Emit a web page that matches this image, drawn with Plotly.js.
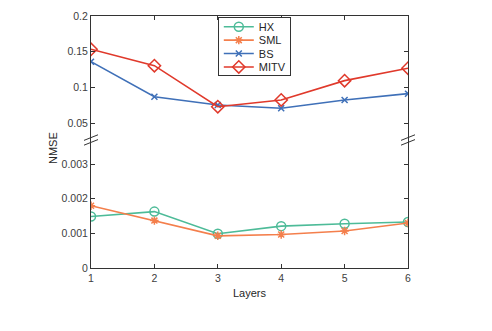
<!DOCTYPE html>
<html>
<head>
<meta charset="utf-8">
<script src="https://cdn.plot.ly/plotly-3.0.1.min.js"></script>
<style>
  body { margin: 0; background: #fff; }
  #chart { width: 492px; height: 331px; }
</style>
</head>
<body>
<div id="chart"></div>
<script>
// values
var layers = [1, 2, 3, 4, 5, 6];
var hx   = [0.00149, 0.00163, 0.00099, 0.00121, 0.00128, 0.00133];
var sml  = [0.00180, 0.00137, 0.00093, 0.00097, 0.00107, 0.00130];
var bs   = [0.1362, 0.0873, 0.0757, 0.0711, 0.0827, 0.0915];
var mitv = [0.1535, 0.1306, 0.0733, 0.0827, 0.1097, 0.1271];

var upTicks = [0.05, 0.1, 0.15, 0.2];
var upLabels = ['0.05', '0.1', '0.15', '0.2'];
var lowTicks = [0, 0.001, 0.002, 0.003];
var lowLabels = ['0', '0.001', '0.002', '0.003'];

var axisColor = '#333333';
var textColor = '#404040';
var brk = 0.508;  // where the two y panels meet (paper)

function series(name, y, color, symbol, size, xa, ya) {
    return {
        name: name,
        x: layers,
        y: y,
        xaxis: xa,
        yaxis: ya,
        type: 'scatter',
        mode: 'lines+markers',
        line: { color: color, width: 1.6 },
        marker: { symbol: symbol, size: size, color: color, line: { color: color, width: 1.5 } }
    };
}

var data = [
    series('HX', hx, '#4dbb98', 'circle-open', 9, 'x', 'y'),
    series('SML', sml, '#f47f4c', 'asterisk-open', 7, 'x', 'y'),
    series('BS', bs, '#3f70b8', 'x-thin-open', 6, 'x2', 'y2'),
    series('MITV', mitv, '#e0392b', 'diamond-open', 9.5, 'x2', 'y2')
];

var tickFont = { family: 'Liberation Sans, Arial, sans-serif', size: 10.5, color: textColor };

// break marks "//" on both sides
var shapes = [];
[0, 1].forEach(function (px) {
    [-2.4, 2.4].forEach(function (dy) {
        shapes.push({
            type: 'line', xref: 'paper', yref: 'paper',
            x0: px - 7 / 317, x1: px + 7 / 317,
            y0: brk + (dy - 2.8) / 252, y1: brk + (dy + 2.8) / 252,
            line: { color: axisColor, width: 1 }
        });
    });
});

var layout = {
    width: 492,
    height: 331,
    margin: { l: 91, r: 84, t: 16, b: 63, pad: 0 },
    paper_bgcolor: '#fff',
    plot_bgcolor: '#fff',
    font: { family: 'Liberation Sans, Arial, sans-serif', color: textColor },
    showlegend: true,
    legend: {
        x: 0.4, y: 0.997, xanchor: 'left', yanchor: 'top',
        bordercolor: axisColor, borderwidth: 1, bgcolor: '#fff',
        font: { size: 11, color: '#262626' },
        tracegroupgap: 0
    },
    xaxis: {
        range: [1, 6],
        tickvals: layers,
        ticks: 'inside', ticklen: 4, tickcolor: axisColor,
        showline: true, linecolor: axisColor, linewidth: 1,
        showgrid: false, zeroline: false, mirror: false,
        tickfont: tickFont,
        anchor: 'y',
        title: { text: 'Layers', font: { size: 11, color: '#262626' }, standoff: 6 }
    },
    xaxis2: {
        range: [1, 6],
        tickvals: layers,
        ticks: 'inside', ticklen: 4, tickcolor: axisColor,
        showline: true, linecolor: axisColor, linewidth: 1,
        showgrid: false, zeroline: false,
        showticklabels: false,
        side: 'top',
        anchor: 'y2',
        matches: 'x'
    },
    yaxis: {
        domain: [0, brk],
        range: [0, 0.0037],
        tickvals: lowTicks, ticktext: lowLabels,
        ticks: 'inside', ticklen: 4, tickcolor: axisColor,
        showline: true, linecolor: axisColor, linewidth: 1, mirror: 'ticks',
        showgrid: false, zeroline: false,
        tickfont: tickFont,
        anchor: 'x'
    },
    yaxis2: {
        domain: [brk, 1],
        range: [0.0268, 0.2],
        tickvals: upTicks, ticktext: upLabels,
        ticks: 'inside', ticklen: 4, tickcolor: axisColor,
        showline: true, linecolor: axisColor, linewidth: 1, mirror: 'ticks',
        showgrid: false, zeroline: false,
        tickfont: tickFont,
        anchor: 'x2'
    },
    shapes: shapes,
    annotations: [{
        text: 'NMSE', xref: 'paper', yref: 'paper',
        x: -0.12, y: 0.476, xanchor: 'center', yanchor: 'middle',
        textangle: -90, showarrow: false,
        font: { size: 11, color: '#262626' }
    }]
};

Plotly.newPlot('chart', data, layout, { staticPlot: true }).then(function (gd) {
    // tighten the legend rows like the original (Plotly keeps a 19px minimum)
    var step = 13.4;
    var items = gd.querySelectorAll('.legend .traces');
    items.forEach(function (el, i) {
        var m = /translate\(([-\d.]+)[ ,]+([-\d.]+)\)/.exec(el.getAttribute('transform') || '');
        var tx = m ? m[1] : 0;
        el.setAttribute('transform', 'translate(' + tx + ',' + (10 + i * step) + ')');
    });
    var bg = gd.querySelector('.legend .bg');
    if (bg) {
        bg.setAttribute('height', 58);
        bg.setAttribute('width', 72);
    }
});
</script>
</body>
</html>
